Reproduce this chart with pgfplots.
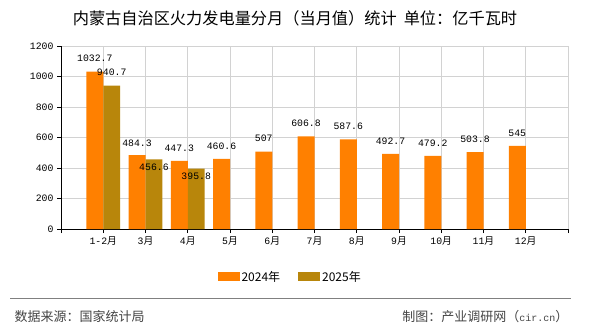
\documentclass[border=0pt]{standalone}
\usepackage{fontspec}
\setmainfont{Liberation Mono}
\newfontfamily\cjk{Noto Sans CJK SC}
\usepackage{pgfplots}
\usepackage{pgfplotstable}
\pgfplotsset{compat=1.18}
\definecolor{cA}{RGB}{255,128,0}
\definecolor{cB}{RGB}{184,134,11}
\definecolor{gridc}{RGB}{210,210,210}
\definecolor{footc}{RGB}{68,68,68}

\pgfplotstableread{
x y dy lab
1 1032.7 13 1032.7
2 484.3 12 484.3
3 447.3 13 447.3
4 460.6 12 460.6
5 507 13 507
6 606.8 13 606.8
7 587.6 13 587.6
8 492.7 13 492.7
9 479.2 13 479.2
10 503.8 13 503.8
11 545 13 545
}\tA
\pgfplotstableread{
x y dy lab
1 940.7 13 940.7
2 456.6 -8 456.6
3 395.8 -8 395.8
}\tB

\begin{document}
\begin{tikzpicture}[x=1pt,y=1pt]
\path (0,0) rectangle (590,330);
\node at (295,312) {\cjk\fontsize{16.2}{16}\selectfont 内蒙古自治区火力发电量分月（当月值）统计\hspace{7pt}单位：亿千瓦时};
\begin{axis}[
  at={(61pt,101pt)}, anchor=south west,
  scale only axis, width=507pt, height=183pt,
  xmin=0, xmax=12, ymin=0, ymax=1200,
  xtick={0,...,12},
  xticklabels={,{1-2\cjk 月},{3\cjk 月},{4\cjk 月},{5\cjk 月},{6\cjk 月},{7\cjk 月},{8\cjk 月},{9\cjk 月},{10\cjk 月},{11\cjk 月},{12\cjk 月},},
  ytick={0,200,...,1200},
  axis x line*=bottom, axis y line*=left,
  axis line style={black, line width=1pt},
  major tick length=4pt, tick align=outside,
  tick style={black, line width=1pt},
  xmajorgrids, ymajorgrids,
  major grid style={gridc, line width=0.9pt},
  ticklabel style={font=\fontsize{9.8}{10}\selectfont},
  /pgf/number format/assume math mode=true,
  /pgf/number format/1000 sep={},
  ybar, bar width=0.4,
  point meta=explicit symbolic,
  nodes near coords,
  visualization depends on={\thisrow{dy}\as\dy},
  every node near coord/.append style={anchor=center, yshift=\dy pt, font=\fontsize{9.8}{10}\selectfont, black},
  legend style={draw=none, at={(0.452,-0.262)}, anchor=center, legend columns=2,
    font=\cjk\fontsize{12}{12}\selectfont,
    /tikz/every even column/.append style={column sep=16pt}},
  legend image code/.code={\fill[#1] (0pt,-4.5pt) rectangle (22pt,4.5pt);},
]
\addplot[fill=cA, draw=none, bar shift=-0.2] table[x=x, y=y, meta=lab] {\tA};
\addlegendentry{2024年}
\addplot[fill=cB, draw=none, bar shift=0.2] table[x=x, y=y, meta=lab] {\tB};
\addlegendentry{2025年}
\end{axis}
\draw[gray, line width=1pt] (10,32) -- (571,32);
\node[anchor=west, footc] at (11,13) {\cjk\fontsize{13}{13}\selectfont 数据来源：国家统计局};
\node[anchor=east, footc] at (572,13) {\fontsize{13}{13}\selectfont{\cjk 制图：产业调研网（}{\fontsize{10}{10}\selectfont cir.cn}{\cjk ）}};
\end{tikzpicture}
\end{document}
